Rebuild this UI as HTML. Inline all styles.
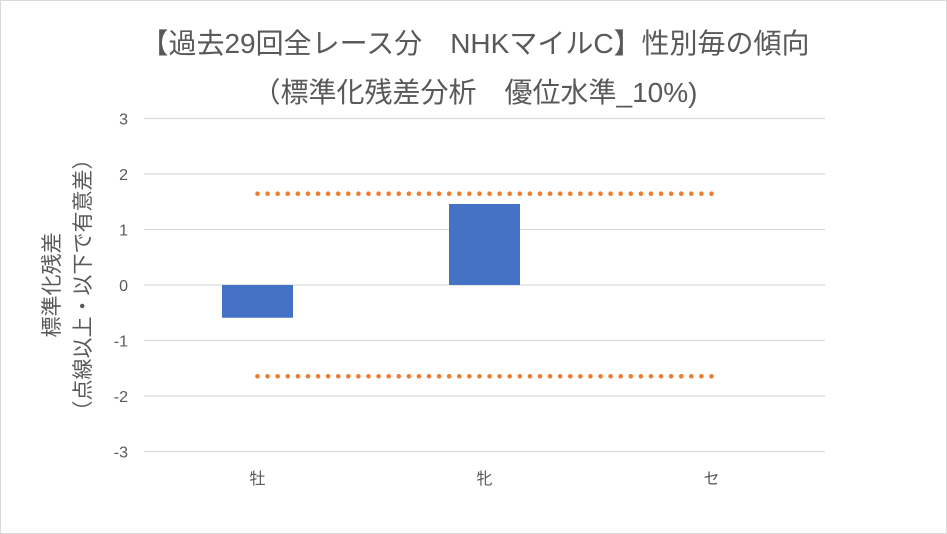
<!DOCTYPE html>
<html><head><meta charset="utf-8">
<style>
html,body{margin:0;padding:0;background:#fff;}
svg{display:block;font-family:"Liberation Sans","Noto Sans CJK JP",sans-serif;}
</style></head>
<body>
<svg id="chart" width="947" height="534" viewBox="0 0 947 534">
<rect x="0.5" y="0.5" width="946" height="533" fill="#fff" stroke="#d9d9d9"/>
<text x="475" y="53" text-anchor="middle" font-size="28" fill="#595959">【過去29回全レース分　NHKマイルC】性別毎の傾向</text>
<text x="475" y="102" text-anchor="middle" font-size="28" fill="#595959">（標準化残差分析　優位水準_10%)</text>
<g transform="translate(59,285) rotate(-90)">
<text x="0" y="0" text-anchor="middle" font-size="21" fill="#595959">標準化残差</text>
<text x="0" y="31" text-anchor="middle" font-size="21" fill="#595959">（点線以上・以下で有意差）</text>
</g>
<g id="grid"></g>
<g id="bars"></g>
<g id="dots"></g>
<g id="labels"></g>
</svg>
<script>
const categories = ["牡", "牝", "セ"];
const residuals = [-0.59, 1.46, 0];
const threshold = 1.645;
const yTicks = [3, 2, 1, 0, -1, -2, -3];

const NS = "http://www.w3.org/2000/svg";
const plotL = 144, plotR = 825, yTop = 118.5, yBot = 451.5, yMin = -3, yMax = 3;
const band = (plotR - plotL) / categories.length;
function y(v){ return yBot - (v - yMin) / (yMax - yMin) * (yBot - yTop); }
function xc(i){ return plotL + band * (i + 0.5); }
function mk(tag, attrs, parent){
  const e = document.createElementNS(NS, tag);
  for (const k in attrs) e.setAttribute(k, attrs[k]);
  document.getElementById(parent).appendChild(e);
  return e;
}
yTicks.forEach(t => {
  const l = mk("line", {x1: plotL, x2: plotR, y1: y(t), y2: y(t), stroke: "#d9d9d9", "stroke-width": 1.3}, "grid");
  
  
  const tx = mk("text", {x: 128, y: y(t) + 6, "text-anchor": "end", "font-size": 16, fill: "#595959"}, "labels");
  tx.textContent = t;
  
  
});
const bw = 71;
residuals.forEach((v, i) => {
  const top = Math.min(y(v), y(0)), h = Math.abs(y(v) - y(0));
  const r = mk("rect", {x: xc(i) - bw/2, y: top, width: bw, height: h, fill: "#4472c4"}, "bars");
  
  
  const tx = mk("text", {x: xc(i), y: 484, "text-anchor": "middle", "font-size": 16, fill: "#595959"}, "labels");
  tx.textContent = categories[i];
  
  
});
[threshold, -threshold].forEach(v => {
  const x0 = xc(0), x1 = xc(categories.length - 1);
  const n = Math.round((x1 - x0) / 10);
  for (let k = 0; k <= n; k++) {
    const c = mk("circle", {cx: x0 + (x1 - x0) * k / n, cy: y(v), r: 2.3, fill: "#ed7d31"}, "dots");
    
    
  }
});
</script>
</body></html>
